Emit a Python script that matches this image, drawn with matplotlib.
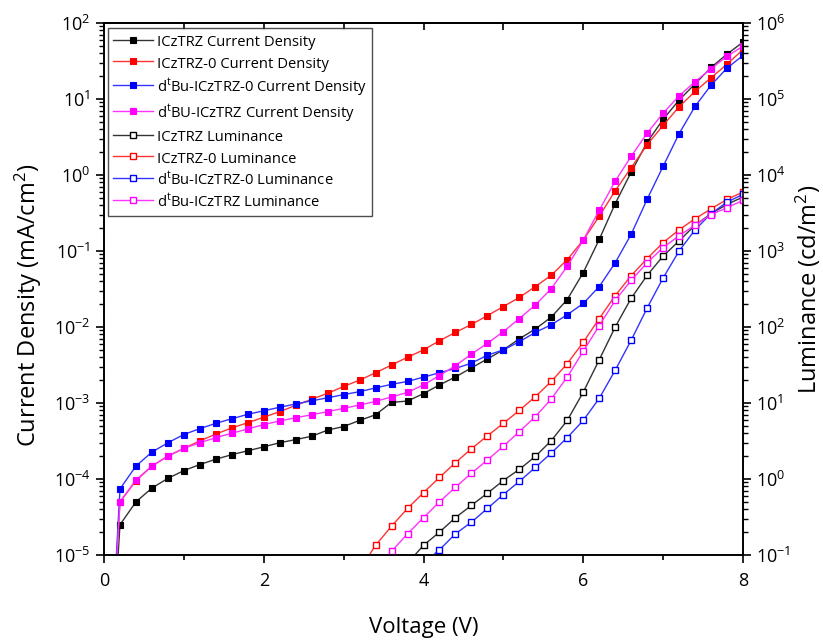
import matplotlib
matplotlib.use("Agg")
import matplotlib.pyplot as plt
import numpy as np
from matplotlib.ticker import LogLocator, FixedLocator, NullFormatter

plt.rcParams['font.family'] = ['Open Sans', 'DejaVu Sans']
plt.rcParams['mathtext.default'] = 'regular'

voltage = [0.0, 0.2, 0.4, 0.6, 0.8, 1.0, 1.2, 1.4, 1.6, 1.8, 2.0, 2.2, 2.4, 2.6, 2.8,
           3.0, 3.2, 3.4, 3.6, 3.8, 4.0, 4.2, 4.4, 4.6, 4.8, 5.0, 5.2, 5.4, 5.6, 5.8,
           6.0, 6.2, 6.4, 6.6, 6.8, 7.0, 7.2, 7.4, 7.6, 7.8, 8.0]

cd_icztrz = [1e-8, 2.5e-5, 5.0e-5, 7.6e-5, 1.02e-4, 1.29e-4, 1.55e-4, 1.82e-4, 2.09e-4, 2.35e-4,
             2.65e-4, 3.0e-4, 3.3e-4, 3.65e-4, 4.4e-4, 4.9e-4, 5.9e-4, 7.0e-4, 1.02e-3, 1.06e-3,
             1.33e-3, 1.73e-3, 2.2e-3, 2.9e-3, 3.8e-3, 5.0e-3, 7.0e-3, 9.4e-3, 1.35e-2, 2.3e-2,
             5.2e-2, 0.142, 0.42, 1.09, 2.7, 5.4, 9.7, 15.8, 26, 39, 56]
cd_icztrz0 = [1e-8, 5.0e-5, 9.5e-5, 1.48e-4, 2.0e-4, 2.53e-4, 3.17e-4, 3.9e-4, 4.7e-4, 5.5e-4,
              6.5e-4, 7.7e-4, 9.3e-4, 1.12e-3, 1.34e-3, 1.65e-3, 2.0e-3, 2.5e-3, 3.16e-3, 4.0e-3,
              5.0e-3, 6.6e-3, 8.5e-3, 1.08e-2, 1.41e-2, 1.86e-2, 2.45e-2, 3.4e-2, 4.8e-2, 7.7e-2,
              0.139, 0.286, 0.62, 1.25, 2.5, 4.5, 7.9, 12.6, 19, 28.7, 44.8]
cd_dtbu0 = [1e-8, 7.4e-5, 1.48e-4, 2.26e-4, 3.0e-4, 3.85e-4, 4.6e-4, 5.4e-4, 6.2e-4, 7.1e-4,
            7.9e-4, 8.8e-4, 9.7e-4, 1.07e-3, 1.17e-3, 1.29e-3, 1.41e-3, 1.58e-3, 1.76e-3, 1.92e-3,
            2.19e-3, 2.5e-3, 2.85e-3, 3.34e-3, 4.26e-3, 5.0e-3, 6.4e-3, 8.5e-3, 1.07e-2, 1.45e-2,
            2.04e-2, 3.4e-2, 7.0e-2, 0.166, 0.48, 1.3, 3.5, 8.0, 15.2, 25.5, 37.4]
cd_dtbu = [1e-8, 5.0e-5, 9.7e-5, 1.48e-4, 2.0e-4, 2.53e-4, 3.0e-4, 3.5e-4, 4.0e-4, 4.55e-4,
           5.2e-4, 5.8e-4, 6.4e-4, 7.0e-4, 7.7e-4, 8.5e-4, 9.4e-4, 1.05e-3, 1.2e-3, 1.38e-3,
           1.73e-3, 2.3e-3, 3.1e-3, 4.4e-3, 6.1e-3, 8.7e-3, 1.29e-2, 1.95e-2, 3.2e-2, 6.3e-2,
           0.139, 0.343, 0.83, 1.76, 3.56, 6.5, 11, 16.9, 25, 36.6, 49.5]

v_lum_icztrz = [3.8, 4.0, 4.2, 4.4, 4.6, 4.8, 5.0, 5.2, 5.4, 5.6, 5.8, 6.0, 6.2, 6.4, 6.6,
                6.8, 7.0, 7.2, 7.4, 7.6, 7.8, 8.0]
lum_icztrz = [0.078, 0.134, 0.2, 0.31, 0.45, 0.65, 0.955, 1.34, 1.98, 3.2, 5.9, 13.9, 37, 100,
              239, 479, 857, 1360, 2190, 3100, 4110, 5130]
v_lum_icztrz0 = [3.2, 3.4, 3.6, 3.8, 4.0, 4.2, 4.4, 4.6, 4.8, 5.0, 5.2, 5.4, 5.6, 5.8, 6.0,
                 6.2, 6.4, 6.6, 6.8, 7.0, 7.2, 7.4, 7.6, 7.8, 8.0]
lum_icztrz0 = [0.064, 0.134, 0.24, 0.41, 0.66, 1.05, 1.64, 2.5, 3.7, 5.4, 8.0, 12.1, 19.2, 33,
               63, 129, 259, 473, 795, 1290, 1900, 2660, 3590, 4780, 5960]
v_lum_dtbu0 = [4.0, 4.2, 4.4, 4.6, 4.8, 5.0, 5.2, 5.4, 5.6, 5.8, 6.0, 6.2, 6.4, 6.6, 6.8,
               7.0, 7.2, 7.4, 7.6, 7.8, 8.0]
lum_dtbu0 = [0.078, 0.117, 0.19, 0.27, 0.41, 0.625, 0.93, 1.42, 2.2, 3.5, 5.9, 11.5, 27, 67,
             178, 442, 1000, 1900, 3100, 4400, 5560]
v_lum_dtbu = [3.4, 3.6, 3.8, 4.0, 4.2, 4.4, 4.6, 4.8, 5.0, 5.2, 5.4, 5.6, 5.8, 6.0, 6.2, 6.4,
              6.6, 6.8, 7.0, 7.2, 7.4, 7.6, 7.8, 8.0]
lum_dtbu = [0.06, 0.112, 0.19, 0.31, 0.5, 0.78, 1.19, 1.78, 2.7, 4.2, 6.6, 11.3, 22, 48, 104,
            224, 411, 700, 1110, 1590, 2190, 3020, 3710, 4640]

cd_labels = ['ICzTRZ Current Density', 'ICzTRZ-0 Current Density',
             'd$^{t}$Bu-ICzTRZ-0 Current Density', 'd$^{t}$BU-ICzTRZ Current Density']
lum_labels = ['ICzTRZ Luminance', 'ICzTRZ-0 Luminance',
              'd$^{t}$Bu-ICzTRZ-0 Luminance', 'd$^{t}$Bu-ICzTRZ Luminance']

colors = ['#000000', '#ff0000', '#0000ff', '#ff00ff']
line_colors = ['#333333', '#ff3333', '#3333ff', '#ff33ff']

fig = plt.figure(figsize=(8.23, 6.41), dpi=100)
ax = fig.add_axes([104/823, 1-555/641, (743-104)/823, (555-23)/641])
ax2 = ax.twinx()

handles = []
for y, lab, c, lc in zip([cd_icztrz, cd_icztrz0, cd_dtbu0, cd_dtbu], cd_labels, colors, line_colors):
    h, = ax.plot(voltage, y, '-', color=lc, lw=1.0, marker='s', ms=4.4, mew=0.8,
                 mfc=c, mec=c, label=lab)
    handles.append(h)
for x, y, lab, c, lc in zip([v_lum_icztrz, v_lum_icztrz0, v_lum_dtbu0, v_lum_dtbu],
                            [lum_icztrz, lum_icztrz0, lum_dtbu0, lum_dtbu],
                            lum_labels, colors, line_colors):
    h, = ax2.plot(x, y, '-', color=lc, lw=1.0, marker='s', ms=4.3, mfc='white',
                  mec=c, mew=1.0, label=lab)
    handles.append(h)

ax.set_xlim(0, 8)
ax.set_yscale('log')
ax.set_ylim(1e-5, 1e2)
ax2.set_yscale('log')
ax2.set_ylim(1e-1, 1e6)

ax.xaxis.set_major_locator(FixedLocator([0, 2, 4, 6, 8]))
ax.xaxis.set_minor_locator(FixedLocator([1, 3, 5, 7]))
for a in (ax, ax2):
    a.yaxis.set_major_locator(LogLocator(base=10, numticks=20))
    a.yaxis.set_minor_locator(LogLocator(base=10, subs=np.arange(2, 10), numticks=20))
    a.yaxis.set_minor_formatter(NullFormatter())

ax.tick_params(axis='x', which='major', direction='out', length=6, width=1.2,
               labelsize=13, pad=6, top=False)
ax.tick_params(axis='x', which='minor', direction='out', length=3.5, width=1.2, top=False)
ax.tick_params(axis='y', which='major', direction='out', length=6, width=1.2, labelsize=13)
ax.tick_params(axis='y', which='minor', direction='out', length=3.5, width=1.0)
ax2.tick_params(axis='y', which='major', direction='out', length=6, width=1.2, labelsize=13)
ax2.tick_params(axis='y', which='minor', direction='out', length=3.5, width=1.0)

# top axis inward ticks at every volt
sec = ax.secondary_xaxis('top')
sec.xaxis.set_major_locator(FixedLocator([0, 1, 2, 3, 4, 5, 6, 7, 8]))
sec.tick_params(direction='in', length=5, width=1.2, labeltop=False)
sec.spines['top'].set_linewidth(1.2)

for a in (ax, ax2):
    for s in a.spines.values():
        s.set_linewidth(1.2)

ax.set_xlabel('Voltage (V)', fontsize=16, labelpad=20)
ax.set_ylabel('Current Density (mA/cm$^2$)', fontsize=17)
ax.yaxis.set_label_coords(-0.094, 0.47)
ax2.set_ylabel('Luminance (cd/m$^2$)', fontsize=17, labelpad=2)

leg = ax2.legend(handles=handles, loc='upper left', bbox_to_anchor=(0.006, 0.99),
                 borderaxespad=0, fontsize=10.6, numpoints=1, handlelength=2.7,
                 handleheight=1.3, frameon=True, fancybox=False, edgecolor='#222222',
                 labelspacing=0.3, borderpad=0.35, handletextpad=0.3)
leg.get_frame().set_linewidth(1.0)

fig.savefig('out.png', dpi=100)
